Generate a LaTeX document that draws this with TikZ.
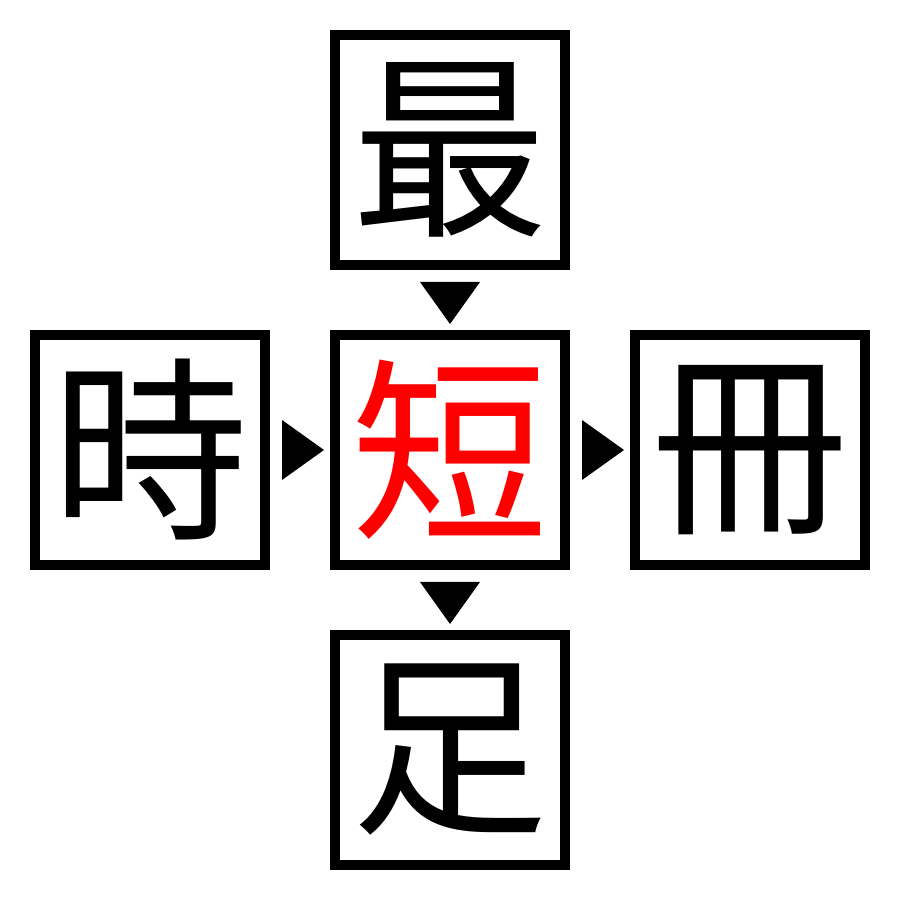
\documentclass[tikz,border=0pt]{standalone}
\usepackage{fontspec}
\newfontfamily\jp{Noto Sans CJK JP}
\tikzset{
    kanji/.style={draw, line width=0.1cm, minimum size=2.3cm, inner sep=0pt, font=\jp\fontsize{56}{56}\selectfont},
}
\begin{document}
\begin{tikzpicture}
        \useasboundingbox (0,0) rectangle (9,9);
        \node[kanji] (top) at (4.5,7.5) {最};
        \node[kanji] (left) at (1.5,4.5) {時};
        \node[kanji, text=red] (mid) at (4.5,4.5) {短};
        \node[kanji] (right) at (7.5,4.5) {冊};
        \node[kanji] (bottom) at (4.5,1.5) {足};
        \fill (4.2,6.18) -- (4.8,6.18) -- (4.5,5.76) -- cycle;
        \fill (4.2,3.18) -- (4.8,3.18) -- (4.5,2.76) -- cycle;
        \fill (2.82,4.8) -- (2.82,4.2) -- (3.24,4.5) -- cycle;
        \fill (5.82,4.8) -- (5.82,4.2) -- (6.24,4.5) -- cycle;
    \end{tikzpicture}
\end{document}
